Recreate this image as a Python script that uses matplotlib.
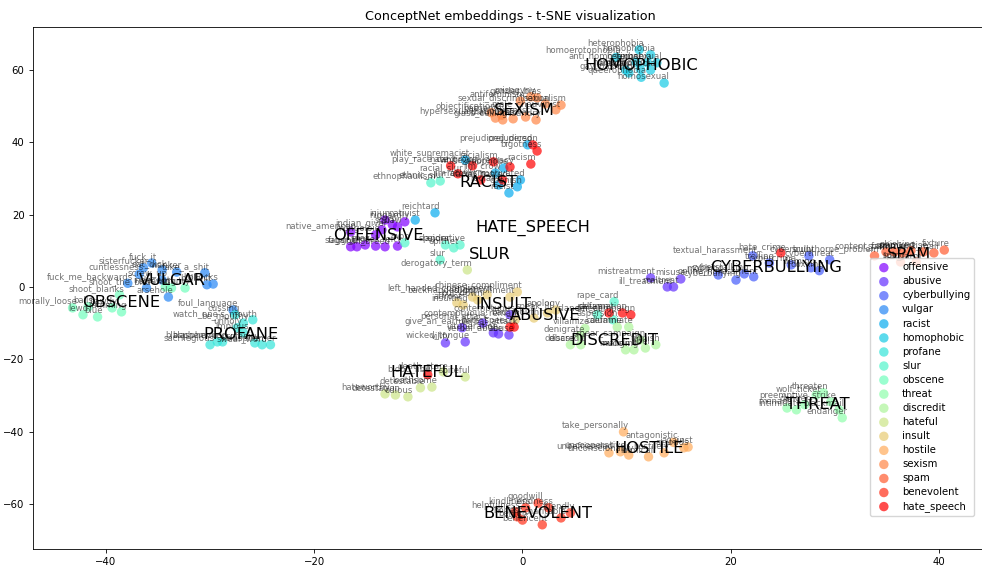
import numpy as np
import matplotlib
matplotlib.use("Agg")
import matplotlib.pyplot as plt

categories = ["offensive", "abusive", "cyberbullying", "vulgar", "racist",
              "homophobic", "profane", "slur", "obscene", "threat", "discredit",
              "hateful", "insult", "hostile", "sexism", "spam", "benevolent",
              "hate_speech"]

# (word, t-SNE x, t-SNE y) for each category
offensive = [("native_american", -16.5, 15.2), ("indian_giver", -13.5, 15.8),
             ("injun", -13.2, 18.5), ("niggardly", -11.3, 18.0), ("gyp", -12.5, 17.2),
             ("squaw", -12.0, 16.6), ("mongoloid", -14.1, 14.4), ("faggot", -16.5, 11.1),
             ("sugar_tit", -15.9, 11.1), ("spaz", -15.1, 11.6), ("gook", -14.1, 11.3),
             ("half_breed", -13.2, 11.1), ("lefty", -12.0, 11.3)]
abusive = [("personal_attack", -3.8, -10.0), ("give_an_earful", -5.8, -11.3),
           ("vituperation", -2.8, -12.7), ("verbal_abuse", -2.3, -13.0),
           ("abuse", -1.3, -13.3), ("contemptuous", -1.2, -7.7),
           ("wicked_tongue", -5.5, -15.2), ("vilify", -7.4, -15.5),
           ("mistreatment", 12.3, 2.5), ("ill_treatment", 13.9, 0.0),
           ("maltreat", 14.5, 0.0), ("misuse", 15.2, 2.2)]
cyberbullying = [("cyberbullying", 20.5, 1.9), ("cyberstalking", 21.3, 3.6),
                 ("online_harassment", 22.2, 2.8), ("textual_harassment", 22.1, 8.6),
                 ("cybercrime", 25.8, 6.1), ("cyberbully", 27.5, 8.6),
                 ("flaming", 27.7, 5.3), ("trolling", 23.7, 6.6), ("mobbing", 18.8, 3.3),
                 ("cyberthreat", 29.5, 7.5), ("doxxing", 28.5, 4.5)]
vulgar = [("fuck_it", -35.6, 6.6), ("sisterfucker", -36.4, 5.3), ("eat_dick", -34.6, 4.7),
          ("fuck_me_backwards", -37.9, 1.0), ("take_a_shit", -30.5, 3.9),
          ("shoot_the_bird", -36.1, -0.3), ("screw_up", -34.6, 1.9),
          ("bollocks", -29.7, 0.8), ("bullshit", -30.3, 0.6), ("wanker", -33.2, 4.1),
          ("arsehole", -34.0, -2.8), ("cuntlessness", -36.8, 3.5),
          ("foul_language", -27.8, -6.4)]
racist = [("prejudiced", 0.5, 39.3), ("racist", -1.3, 26.0), ("coonish", -0.5, 27.7),
          ("racially_motivated", -0.2, 29.6), ("racialist", -2.3, 28.2),
          ("jim_crow", -2.6, 31.5), ("white_supremacist", -5.5, 35.1),
          ("xenophobe", -1.8, 32.9), ("nativist", -10.3, 18.5), ("reichtard", -8.4, 20.5)]
homophobic = [("heterophobia", 11.2, 65.6), ("homophobia", 12.3, 64.2),
              ("homoerotophobia", 9.0, 63.5), ("anti_homosexual", 10.9, 62.2),
              ("biphobia", 12.0, 62.0), ("heterosexual", 12.9, 62.0), ("antigay", 9.9, 60.0),
              ("gay_bashing", 10.2, 59.2), ("homophobic", 11.3, 60.3),
              ("lesbophobia", 12.3, 60.0), ("queerophobia", 11.4, 58.0),
              ("homosexual", 13.6, 56.4)]
profane = [("cussing", -27.6, -7.7), ("watch_one's_mouth", -25.9, -9.1),
           ("be_mouthy", -26.8, -10.0), ("unholy", -27.4, -11.3), ("impious", -26.8, -12.7),
           ("sacrilegious", -30.0, -16.0), ("blasphemous", -29.3, -15.2),
           ("blaspheming", -28.8, -15.2), ("profanity", -25.7, -15.5),
           ("swear_word", -25.0, -16.0), ("blasphemer", -24.2, -16.0)]
slur = [("ethnophaulism", -8.8, 28.8), ("ethnic_slur", -7.9, 29.3), ("wop", -11.3, 12.2),
        ("slur", -7.9, 7.5), ("epithet", -6.6, 10.8), ("slander", -7.4, 11.6),
        ("pejorative", -6.0, 11.6), ("rape_card", 8.8, -4.1), ("smear", 7.2, -7.7),
        ("aspersion", 8.7, -9.1)]
obscene = [("morally_loose", -43.2, -5.8), ("lewd", -42.2, -7.7),
           ("blue", -40.8, -8.3), ("balls", -41.7, -5.5), ("bawdy", -39.4, -5.8),
           ("ramming", -38.5, -6.9), ("smutty", -32.4, -0.3), ("screwing", -33.7, -0.3),
           ("indecent", -34.3, 0.0), ("shoot_blanks", -38.7, -2.2)]
threat = [("menace", 25.4, -33.5), ("intimidate", 26.3, -34.0), ("danger", 27.1, -32.6),
          ("wolf_ticket", 28.2, -29.9), ("threaten", 28.9, -29.3),
          ("preemptive_strike", 29.6, -31.8), ("blackmail", 30.4, -34.0),
          ("endanger", 30.7, -36.2)]
discredit = [("discredit", 5.6, -16.0), ("defame", 9.1, -11.1), ("calumniate", 10.2, -11.1),
             ("smear_campaign", 11.3, -14.7), ("malign", 9.9, -17.4),
             ("mudsling", 10.7, -17.4), ("libel", 11.8, -16.9), ("tarnish", 12.8, -16.0),
             ("debase", 4.6, -16.0), ("denigrate", 5.5, -13.5), ("villainize", 6.0, -11.5)]
hateful = [("spiteful", -5.5, -24.9), ("death_stare", -7.6, -23.5),
           ("loathsome", -8.7, -27.7), ("detestable", -9.8, -27.9), ("odious", -11.0, -30.4),
           ("detestation", -12.2, -29.9), ("hateworthy", -13.2, -29.6),
           ("derogatory_term", -5.3, 4.7)]
insult = [("chinese_compliment", -0.5, -1.4), ("backhanded_compliment", -1.2, -2.8),
          ("affront", -6.3, -4.4), ("insulting", -5.7, -5.0), ("slight", -4.8, -2.8),
          ("put_down", -4.3, -3.6), ("left_handed_compliment", -3.4, -2.2),
          ("contemptuous_remark", -0.7, -9.1), ("bad_mouth", 1.1, -8.6),
          ("apology", 3.2, -6.4), ("speak_ill", 2.4, -7.2)]
hostile = [("unbefriended", 8.3, -45.9), ("uncooperative", 9.4, -45.6),
           ("unconscionably", 10.2, -46.5), ("inimical", 12.1, -47.0),
           ("hostilely", 13.6, -45.9), ("at_odds", 15.5, -44.5), ("against", 15.9, -44.3),
           ("take_personally", 9.7, -40.1), ("antagonistic", 14.5, -43.0)]
sexism = [("misogyny", 0.8, 52.6), ("antifeminism", -0.2, 51.4), ("sexualism", 3.7, 50.3),
          ("sexual_discrimination", 2.2, 50.6), ("hypersexualization", -2.6, 46.7),
          ("glass_ceiling", -1.9, 46.2), ("chauvinism", -0.9, 46.5), ("sexist", 0.3, 47.0),
          ("misandry", 1.3, 46.2), ("male_chauvinist", 3.2, 49.0),
          ("gender_bias", 1.4, 52.3), ("objectification", -3.0, 48.2),
          ("patriarchy", -2.0, 47.5)]
spam = [("scunthorpe_problem", 33.8, 8.6), ("content_farm", 34.9, 9.7), ("spim", 35.7, 9.7),
        ("spammer", 36.5, 9.4), ("phishing", 37.3, 10.0), ("spamvertise", 38.5, 9.7),
        ("junk_mail", 39.5, 9.4), ("fixture", 40.5, 10.2), ("splog", 36.3, 6.9),
        ("link_farm", 37.8, 6.9)]
benevolent = [("goodwill", 1.5, -59.8), ("kindliness", 0.3, -61.1),
              ("helpfulness", -0.7, -62.2), ("benign", 0.0, -64.5),
              ("beneficent", 1.9, -65.8), ("charitable", 3.7, -63.9), ("friendly", 4.6, -62.5),
              ("honest", -0.5, -63.6), ("kindness", 2.5, -61.1)]
hate_speech = [("prejudiced_person", 1.0, 39.3), ("bigotness", 1.4, 37.6),
               ("racism", 0.8, 34.0), ("white_supremacy", -1.2, 33.2),
               ("racialism", -2.8, 34.6), ("hate_group", -4.8, 33.5),
               ("racial_slur", -6.2, 31.3), ("play_race_card", -6.9, 33.5),
               ("jim_crowism", -4.0, 29.6), ("racial_hatred", -1.9, 29.6),
               ("hate_speech", -1.2, -11.1), ("verbal_attack", -0.8, -11.1),
               ("calumny", 8.3, -7.2), ("defamation", 9.6, -7.2),
               ("slander_campaign", 10.4, -7.7), ("hate_crime", 24.8, 9.4),
               ("blood_libel", -9.1, -24.3)]

points_by_category = {
    "offensive": offensive, "abusive": abusive, "cyberbullying": cyberbullying,
    "vulgar": vulgar, "racist": racist, "homophobic": homophobic, "profane": profane,
    "slur": slur, "obscene": obscene, "threat": threat, "discredit": discredit,
    "hateful": hateful, "insult": insult, "hostile": hostile, "sexism": sexism,
    "spam": spam, "benevolent": benevolent, "hate_speech": hate_speech,
}

colors = plt.cm.rainbow(np.linspace(0, 1, len(categories)))

fig = plt.figure(figsize=(9.82, 5.68), dpi=100)
ax = fig.add_axes([33 / 982, 19 / 568, 954 / 982, 522 / 568])

for cat, col in zip(categories, colors):
    pts = points_by_category[cat]
    xs = np.array([p[1] for p in pts])
    ys = np.array([p[2] for p in pts])
    ax.scatter(xs, ys, s=46, color=col, alpha=0.7, label=cat, edgecolors="none")
    for word, x, y in pts:
        ax.annotate(word, (x, y), xytext=(3.6, 1.5), textcoords="offset points",
                    ha="right", va="bottom", fontsize=6.1, alpha=0.55)

# category names at the centroid of their words
for cat in categories:
    pts = points_by_category[cat]
    cx = np.mean([p[1] for p in pts])
    cy = np.mean([p[2] for p in pts])
    ax.text(cx, cy, cat.upper(), fontsize=11.7, ha="center", va="center")

ax.set_xlim(-47.0, 44.6)
ax.set_ylim(-72.5, 71.9)
ax.set_xticks([-40, -20, 0, 20, 40])
ax.set_yticks([-60, -40, -20, 0, 20, 40, 60])
ax.tick_params(labelsize=7.3, length=2.6, width=0.6)
for sp in ax.spines.values():
    sp.set_linewidth(0.6)
ax.set_title("ConceptNet embeddings - t-SNE visualization", fontsize=9.2, pad=5)

ax.legend(loc="upper left", bbox_to_anchor=(0.877, 0.557), fontsize=7.3,
          borderaxespad=0, labelspacing=0.4)

fig.savefig("out.png", dpi=100)
